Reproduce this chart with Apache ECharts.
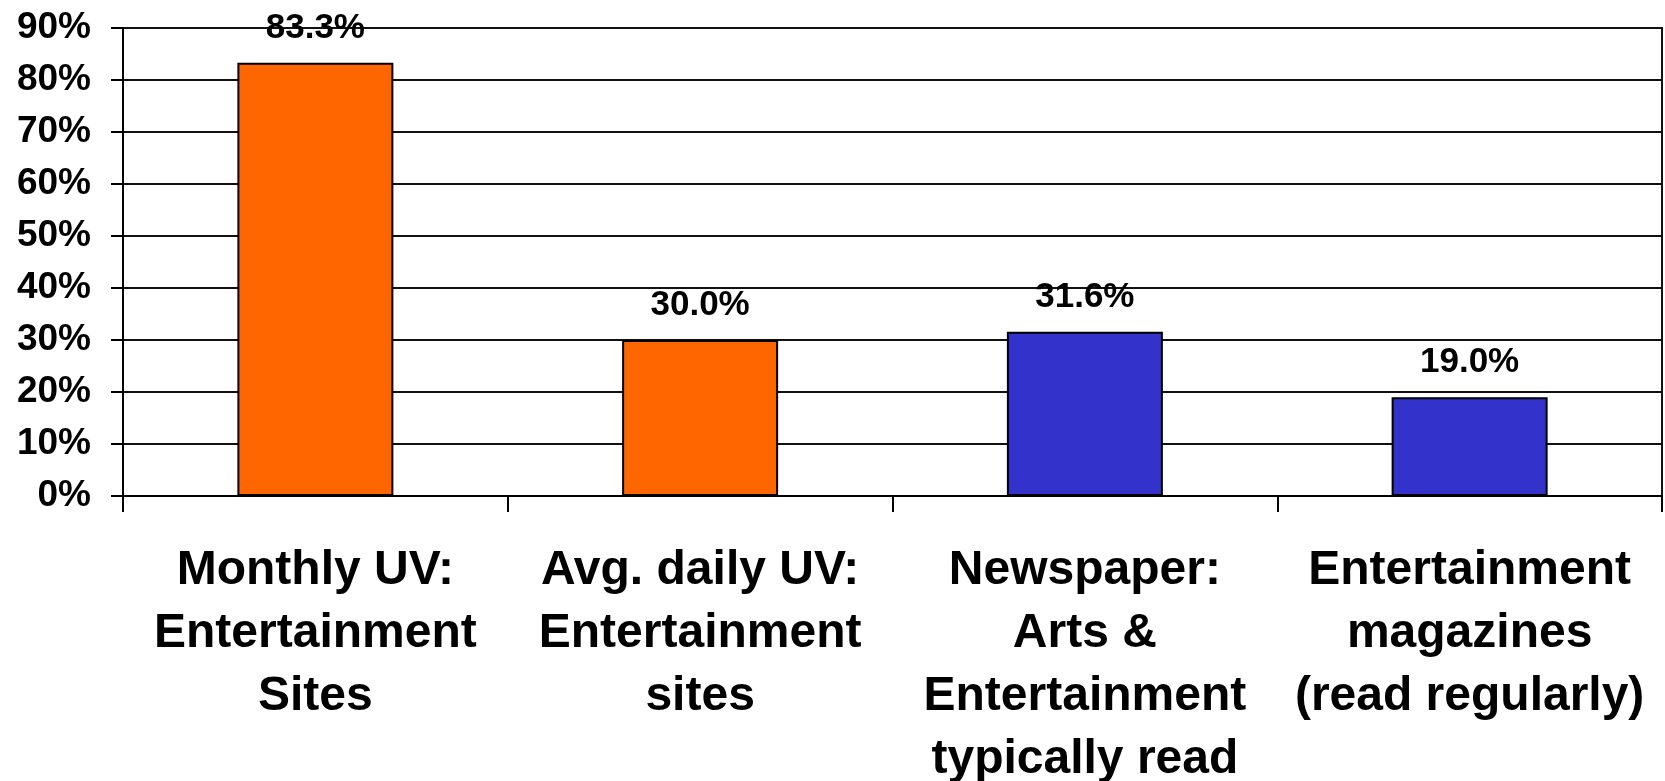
<!DOCTYPE html>
<html>
<head>
<meta charset="utf-8">
<script src="https://cdn.jsdelivr.net/npm/echarts@6/dist/echarts.min.js"></script>
<style>
html,body{margin:0;padding:0;background:#fff;}
#chart{width:1665px;height:781px;}
</style>
</head>
<body>
<div id="chart"></div>
<script>
const categories = [
  'Monthly UV:\nEntertainment\nSites',
  'Avg. daily UV:\nEntertainment\nsites',
  'Newspaper:\nArts &\nEntertainment\ntypically read',
  'Entertainment\nmagazines\n(read regularly)'
];
const values = [83.3, 30.0, 31.6, 19.0];
const groups = ['online', 'online', 'print', 'print'];
const yTicks = [0, 10, 20, 30, 40, 50, 60, 70, 80, 90];

const groupColor = { online: '#FF6600', print: '#3333CC' };
const FONT = '"Liberation Sans", Arial, sans-serif';
const NARROW = '"Liberation Sans Narrow", "Arial Narrow", "Liberation Sans", sans-serif';

const chart = echarts.init(document.getElementById('chart'));
chart.setOption({
  animation: false,
  backgroundColor: '#fff',
  grid: {
    left: 123, right: 3, top: 28, bottom: 285,
    outerBoundsMode: 'none',
    show: true, borderColor: '#111', borderWidth: 2, backgroundColor: 'transparent'
  },
  xAxis: {
    type: 'category',
    data: categories,
    axisLine: { show: true, lineStyle: { color: '#000', width: 2 } },
    axisTick: { show: true, length: 16, lineStyle: { color: '#000', width: 2 } },
    axisLabel: {
      interval: 0, margin: 43,
      fontFamily: FONT, fontWeight: 'bold', fontSize: 48, lineHeight: 63,
      color: '#000', align: 'center'
    }
  },
  yAxis: {
    type: 'value',
    min: yTicks[0], max: yTicks[yTicks.length - 1], interval: 10,
    axisLine: { show: true, lineStyle: { color: '#000', width: 2 } },
    axisTick: { show: true, length: 12, lineStyle: { color: '#000', width: 2 } },
    splitLine: { show: true, lineStyle: { color: '#111', width: 2 } },
    axisLabel: {
      margin: 32, formatter: '{value}%',
      fontFamily: FONT, fontWeight: 'bold', fontSize: 37, color: '#000'
    }
  },
  series: [{
    type: 'bar',
    barWidth: 156,
    data: values.map((v, i) => ({
      value: v,
      itemStyle: { color: groupColor[groups[i]], borderColor: '#000', borderWidth: 2 }
    })),
    label: {
      show: true, position: 'top', distance: 17,
      formatter: p => p.value.toFixed(1) + '%',
      fontFamily: NARROW, fontWeight: 'bold', fontSize: 35, color: '#000'
    }
  }]
});
</script>
</body>
</html>
